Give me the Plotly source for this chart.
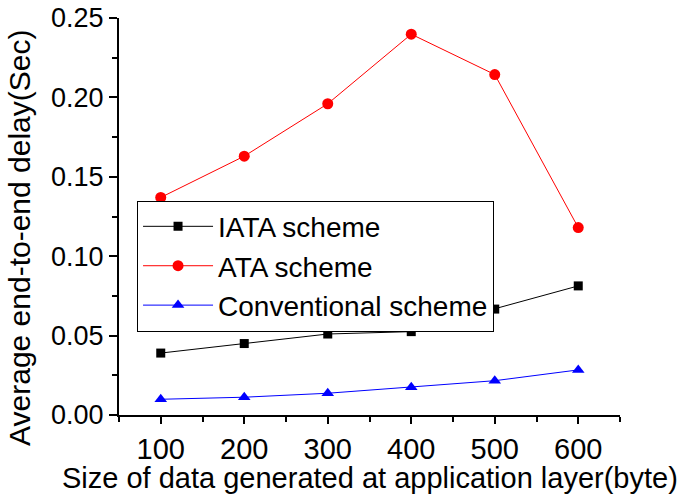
import plotly.graph_objects as go

sizes = [100, 200, 300, 400, 500, 600]
iata = [0.039, 0.045, 0.051, 0.0525, 0.0667, 0.0813]
ata = [0.137, 0.163, 0.196, 0.2398, 0.2144, 0.118]
conventional = [0.0099, 0.0112, 0.0137, 0.0175, 0.0216, 0.0284]
y_ticks = [0.00, 0.05, 0.10, 0.15, 0.20, 0.25]
y_tick_labels = ["0.00", "0.05", "0.10", "0.15", "0.20", "0.25"]
x_title = "Size of data generated at application layer(byte)"
y_title = "Average end-to-end delay(Sec)"

FONT = "Arial, Liberation Sans, sans-serif"

fig = go.Figure()
fig.add_trace(go.Scatter(x=sizes, y=iata, mode="lines+markers", name="IATA scheme",
                         line=dict(color="black", width=1),
                         marker=dict(symbol="square", size=9, color="black")))
fig.add_trace(go.Scatter(x=sizes, y=ata, mode="lines+markers", name="ATA scheme",
                         line=dict(color="red", width=1),
                         marker=dict(symbol="circle", size=11, color="red")))
fig.add_trace(go.Scatter(x=sizes, y=conventional, mode="lines+markers", name="Conventional scheme",
                         line=dict(color="blue", width=1),
                         marker=dict(symbol="triangle-up", size=11, color="blue")))

fig.update_layout(
    width=685, height=499,
    margin=dict(l=119, r=65, t=18, b=84, autoexpand=False),
    paper_bgcolor="white", plot_bgcolor="white",
    font=dict(family=FONT, color="black"),
    showlegend=True,
    legend=dict(x=0.036, y=0.540, xanchor="left", yanchor="top",
                bordercolor="black", borderwidth=1, bgcolor="white",
                font=dict(size=28, family=FONT), itemwidth=70,
                tracegroupgap=0),
    annotations=[
        dict(text=x_title, xref="paper", yref="paper", x=0.5, y=-0.159,
             xanchor="center", yanchor="middle", showarrow=False,
             font=dict(size=29, family=FONT, color="black")),
        dict(text=y_title, xref="paper", yref="paper", x=-0.1976, y=0.446,
             xanchor="center", yanchor="middle", showarrow=False, textangle=-90,
             font=dict(size=30, family=FONT, color="black")),
    ],
)
fig.update_xaxes(range=[50, 650], tickvals=sizes, ticks="outside", ticklen=7,
                 tickwidth=1.5, tickcolor="black", showline=True, linecolor="black",
                 linewidth=2, showgrid=False, zeroline=False, automargin=False,
                 ticklabeloverflow="allow",
                 tickfont=dict(size=29, family=FONT),
                 minor=dict(dtick=50, tick0=50, ticks="outside", ticklen=5, tickcolor="black", tickwidth=1.5))
fig.update_yaxes(range=[0, 0.25], tickvals=y_ticks, ticktext=y_tick_labels, ticks="outside",
                 ticklen=8, tickwidth=1.5, tickcolor="black", showline=True, linecolor="black",
                 linewidth=2, showgrid=False, zeroline=False, automargin=False,
                 ticklabeloverflow="allow",
                 tickfont=dict(size=27, family=FONT),
                 minor=dict(dtick=0.025, tick0=0, ticks="outside", ticklen=5, tickcolor="black", tickwidth=1.5))

# remove the browser's default 8px body margin so the figure sits at the page origin
fig.write_html("out.html", config={"displayModeBar": False},
               post_script="document.body.style.margin='0';")
